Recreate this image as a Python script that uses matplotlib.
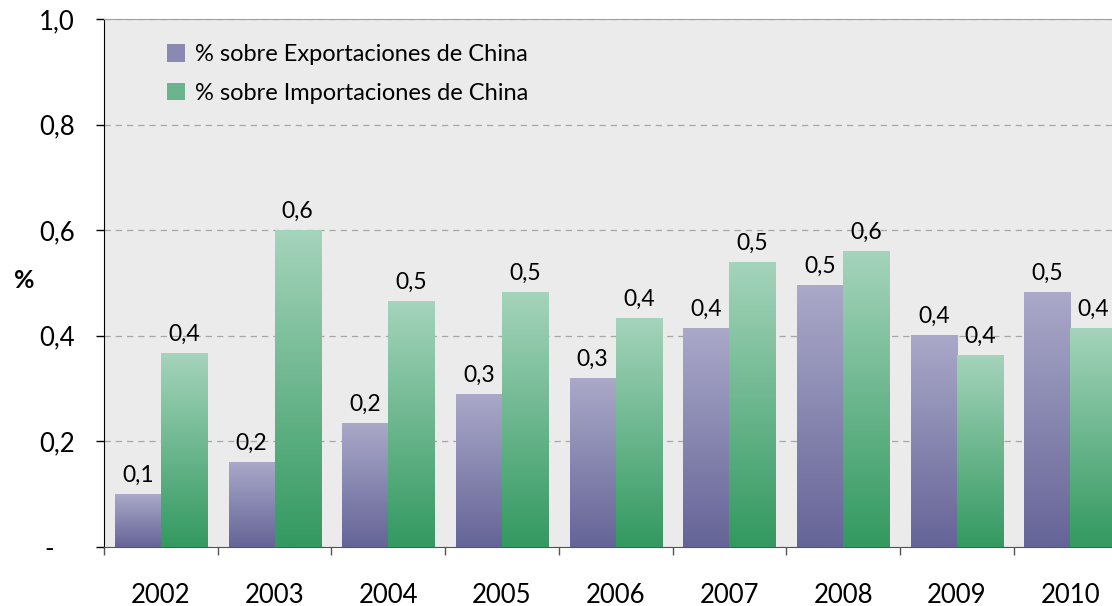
import numpy as np
import matplotlib.pyplot as plt
from matplotlib.patches import Patch

plt.rcParams['font.family'] = ['Lato', 'DejaVu Sans']

# datos
years = ['2002', '2003', '2004', '2005', '2006', '2007', '2008', '2009', '2010']
exportaciones = [0.100, 0.161, 0.235, 0.290, 0.320, 0.415, 0.496, 0.402, 0.483]
importaciones = [0.367, 0.600, 0.466, 0.483, 0.434, 0.540, 0.561, 0.364, 0.415]
yticks = [0, 0.2, 0.4, 0.6, 0.8, 1.0]
ytick_labels = ['-   ', '0,2', '0,4', '0,6', '0,8', '1,0']

exp_top, exp_bot = '#aaa9c9', '#656497'
imp_top, imp_bot = '#a5d4bc', '#339960'

fig = plt.figure(figsize=(11.12, 6.06), dpi=100)
ax = fig.add_axes([104 / 1112, 1 - 547 / 606, 1 - 104 / 1112, (547 - 19) / 606])
ax.set_facecolor('#ebebeb')

x = np.arange(len(years))
w = 0.405


def gradient_bars(bars, top, bot):
    c1 = np.array(plt.matplotlib.colors.to_rgb(top))
    c2 = np.array(plt.matplotlib.colors.to_rgb(bot))
    t = np.linspace(0, 1, 256)[:, None]
    img = (c1 * (1 - t) + c2 * t)[:, None, :]
    for b in bars:
        x0, y0 = b.get_x(), b.get_y()
        x1, y1 = x0 + b.get_width(), y0 + b.get_height()
        im = ax.imshow(img, extent=[x0, x1, y0, y1], aspect='auto', zorder=3,
                       interpolation='bilinear', origin='upper')
        im.set_clip_path(b)
        b.set_facecolor('none')


b1 = ax.bar(x - w / 2, exportaciones, w, zorder=2, linewidth=0)
b2 = ax.bar(x + w / 2, importaciones, w, zorder=2, linewidth=0)
gradient_bars(b1, exp_top, exp_bot)
gradient_bars(b2, imp_top, imp_bot)

for bars, vals in [(b1, exportaciones), (b2, importaciones)]:
    for b, v in zip(bars, vals):
        ax.annotate(f'{v:.1f}'.replace('.', ','), (b.get_x() + b.get_width() / 2, v),
                    xytext=(0, 6), textcoords='offset points', ha='center', va='bottom',
                    fontsize=16.5, zorder=5)

ax.set_xlim(-0.5, 8.365)
ax.set_ylim(0, 1.0)

ax.set_yticks(yticks)
ax.set_yticklabels(ytick_labels)
ax.yaxis.grid(True, linestyle=(0, (5, 4)), color='#a6a6a6', linewidth=0.9, zorder=1)
ax.set_axisbelow(True)
ax.tick_params(axis='y', length=6, width=1, color='black', pad=15, labelsize=18.5)

ax.set_xticks(x)
ax.set_xticklabels(years)
ax.set_xticks(np.arange(len(years)) - 0.5, minor=True)
ax.tick_params(axis='x', which='major', length=0, pad=26, labelsize=18.5)
ax.tick_params(axis='x', which='minor', length=6, width=1, color='#555555')

ax.spines['right'].set_visible(False)
ax.spines['top'].set_color('#a0a0a0')
ax.spines['left'].set_color('black')
ax.spines['bottom'].set_color('#555555')

fig.text(24 / 1112, 1 - 280 / 606, '%', fontsize=18, fontweight='bold', ha='center', va='center')

handles = [Patch(facecolor='#8a89b2', label='% sobre Exportaciones de China'),
           Patch(facecolor='#6bb58e', label='% sobre Importaciones de China')]
leg = ax.legend(handles=handles, loc='upper left', bbox_to_anchor=(0.053, 0.97), frameon=False,
                fontsize=17, handlelength=0.75, handleheight=0.75, handletextpad=0.45,
                labelspacing=0.75, borderaxespad=0)

fig.savefig('out.png', dpi=100)
